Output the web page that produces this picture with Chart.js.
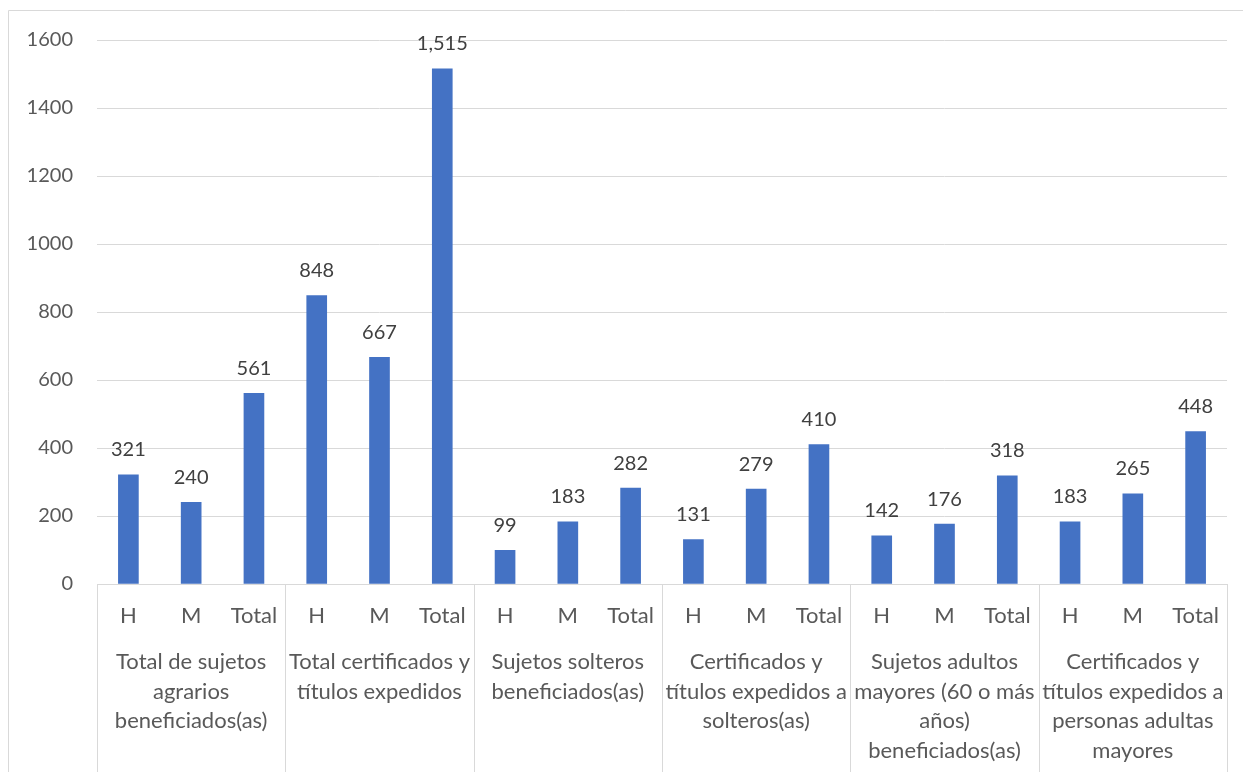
<!DOCTYPE html>
<html>
<head>
<meta charset="utf-8">
<script src="https://cdn.jsdelivr.net/npm/chart.js@4/dist/chart.umd.min.js"></script>
<style>
  html, body { margin: 0; padding: 0; background: #fff; }
  #wrap { width: 1243px; height: 772px; }
</style>
</head>
<body>
<div id="wrap"><canvas id="chart" width="1243" height="772"></canvas></div>
<script>
// datos
var subLabels = ['H', 'M', 'Total', 'H', 'M', 'Total', 'H', 'M', 'Total',
                 'H', 'M', 'Total', 'H', 'M', 'Total', 'H', 'M', 'Total'];
var values = [321, 240, 561, 848, 667, 1515, 99, 183, 282,
              131, 279, 410, 142, 176, 318, 183, 265, 448];
var groupLabels = [
  ['Total de sujetos', 'agrarios', 'beneficiados(as)'],
  ['Total certificados y', 'títulos expedidos'],
  ['Sujetos solteros', 'beneficiados(as)'],
  ['Certificados y', 'títulos expedidos a', 'solteros(as)'],
  ['Sujetos adultos', 'mayores (60 o más', 'años)', 'beneficiados(as)'],
  ['Certificados y', 'títulos expedidos a', 'personas adultas', 'mayores']
];
var yTicks = [0, 200, 400, 600, 800, 1000, 1200, 1400, 1600];

var FONT = 'Lato, "Open Sans", sans-serif';
var GRID = '#d9d9d9';
var TXT = '#595959';

// marco, separadores de grupo y etiquetas de valores
var extras = {
  id: 'extras',
  beforeDraw: function(chart) {
    var ctx = chart.ctx;
    ctx.save();
    ctx.strokeStyle = GRID;
    ctx.lineWidth = 1;
    ctx.beginPath();
    ctx.moveTo(8.5, chart.height);
    ctx.lineTo(8.5, 10.5);
    ctx.lineTo(chart.width, 10.5);
    ctx.stroke();
    ctx.restore();
  },
  afterDraw: function(chart) {
    var ctx = chart.ctx;
    var x = chart.scales.x;
    var area = chart.chartArea;
    var band = (area.right - area.left) / subLabels.length;
    ctx.save();
    // separadores
    ctx.strokeStyle = GRID;
    ctx.lineWidth = 1;
    for (var g = 0; g <= groupLabels.length; g++) {
      var px = Math.round(area.left + g * 3 * band) + 0.5;
      ctx.beginPath();
      ctx.moveTo(px, area.bottom);
      ctx.lineTo(px, chart.height);
      ctx.stroke();
    }
    // etiquetas de grupo
    ctx.fillStyle = TXT;
    ctx.font = '22px ' + FONT;
    ctx.textAlign = 'center';
    ctx.textBaseline = 'middle';
    groupLabels.forEach(function(lines, g) {
      var cx = x.getPixelForValue(g * 3 + 1);
      lines.forEach(function(t, k) {
        ctx.fillText(t, cx, 662 + k * 29.5);
      });
    });
    // valores sobre las barras
    var meta = chart.getDatasetMeta(0);
    ctx.fillStyle = '#404040';
    ctx.font = '20px ' + FONT;
    meta.data.forEach(function(bar, i) {
      ctx.fillText(values[i].toLocaleString('en-US'), bar.x, bar.y - 25);
    });
    ctx.restore();
  }
};

new Chart(document.getElementById('chart').getContext('2d'), {
  type: 'bar',
  data: {
    labels: subLabels,
    datasets: [{
      data: values,
      backgroundColor: '#4472c4',
      barThickness: 20
    }]
  },
  options: {
    responsive: false,
    animation: false,
    layout: { padding: { top: 40, right: 16, left: 0, bottom: 0 } },
    plugins: { legend: { display: false }, tooltip: { enabled: false } },
    scales: {
      x: {
        grid: { display: false, drawTicks: false },
        border: { display: true, color: GRID },
        ticks: { color: TXT, font: { family: FONT, size: 22 }, padding: 19, maxRotation: 0, autoSkip: false },
        afterFit: function(s) { s.height = 188; }
      },
      y: {
        min: 0,
        max: 1600,
        afterBuildTicks: function(s) { s.ticks = yTicks.map(function(v) { return { value: v }; }); },
        grid: { color: GRID, drawTicks: false },
        border: { display: false },
        ticks: {
          color: TXT, font: { family: FONT, size: 20 }, padding: 24,
          callback: function(v) { return String(v); }
        },
        afterFit: function(s) { s.width = 97; }
      }
    }
  },
  plugins: [extras]
});
</script>
</body>
</html>
